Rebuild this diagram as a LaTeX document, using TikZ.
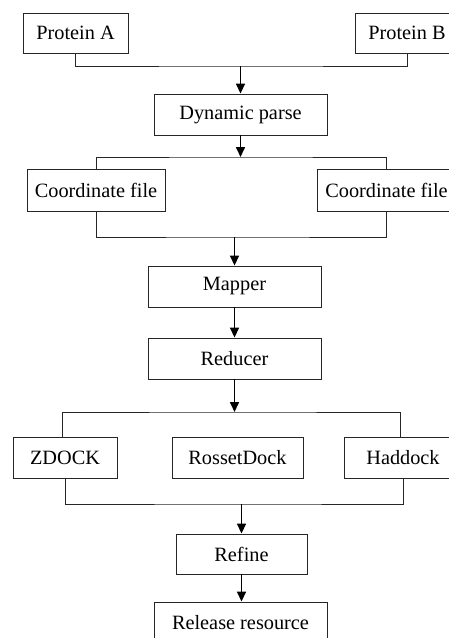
\documentclass[tikz,border=0pt]{standalone}
\usepackage{fontspec}
\setmainfont{Liberation Serif}
\usetikzlibrary{arrows.meta}
\begin{document}
\begin{tikzpicture}[x=1pt,y=-1pt,
  box/.style={draw=black!85,line width=0.9pt,rectangle,minimum height=41pt,inner sep=0pt,
    font=\fontsize{20.3}{24}\selectfont},
  bus/.style={draw=black!85,line width=0.9pt},
  arr/.style={line width=1.6pt,-{Triangle[length=10pt,width=9pt]}}]
\useasboundingbox (0,0) rectangle (449,638);
\clip (0,0) rectangle (449,638);
\node[box,minimum width=105pt,minimum height=40pt] (pa) at (75.5,33) {Protein A};
\node[box,minimum width=104pt,minimum height=40pt] (pb) at (407,33) {Protein B};
\node[box,minimum width=173pt] (dp) at (240.5,114.5) {Dynamic parse};
\node[box,minimum width=138pt,minimum height=42pt] (cf1) at (96,190) {Coordinate file};
\node[box,minimum width=138pt,minimum height=42pt] (cf2) at (386.5,190) {Coordinate file};
\node[box,minimum width=173pt] (map) at (234.5,286.5) {Mapper};
\node[box,minimum width=173pt] (red) at (234.5,358.5) {Reducer};
\node[box,minimum width=104pt] (zd) at (65,457.5) {ZDOCK};
\node[box,minimum width=131pt] (rd) at (237.5,457.5) {RossetDock};
\node[box,minimum width=118pt] (hd) at (403,457.5) {Haddock};
\node[box,minimum width=131pt,minimum height=40pt] (ref) at (241.5,554) {Refine};
\node[box,minimum width=173pt] (rel) at (240.5,622.5) {Release resource};
% connectors
\coordinate (j1) at (240.5,66);
\coordinate (j2) at (240.5,157);
\coordinate (j3) at (234.5,237);
\coordinate (j4) at (234.5,412);
\coordinate (j5) at (241.5,504);
\draw[bus] (pa.south) |- (j1) -| (pb.south);
\draw[arr] (j1) -- (dp.north);
\draw[arr] (dp.south) -- (j2);
\draw[bus] (cf1.north) |- (j2) -| (cf2.north);
\draw[bus] (cf1.south) |- (j3) -| (cf2.south);
\draw[arr] (j3) -- (map.north);
\draw[arr] (map.south) -- (red.north);
\draw[arr] (red.south) -- (j4);
\draw[bus] ([xshift=-3pt]zd.north) |- (j4) -| ([xshift=-3pt]hd.north);
\draw[bus] (zd.south) |- (j5) -| (hd.south);
\draw[arr] (j5) -- (ref.north);
\draw[arr] (ref.south) -- (ref.south |- rel.north);
\end{tikzpicture}
\end{document}
